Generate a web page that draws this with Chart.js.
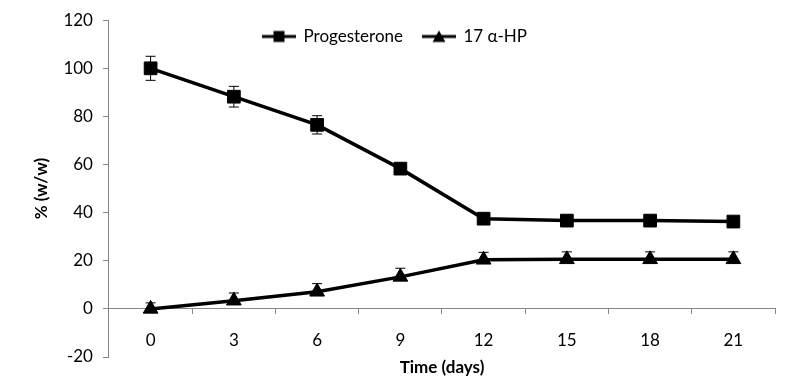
<!DOCTYPE html>
<html>
<head>
<meta charset="utf-8">
<script src="https://cdn.jsdelivr.net/npm/chart.js@4"></script>
<style>
  html, body { margin: 0; padding: 0; background: #fff; }
  #wrap { width: 786px; height: 389px; }
</style>
</head>
<body>
<div id="wrap"><canvas id="graph"></canvas></div>
<script>
const days = ['0', '3', '6', '9', '12', '15', '18', '21'];
const progesterone = [100, 88.2, 76.5, 58.3, 37.5, 36.7, 36.7, 36.3];
const progesteroneErr = [5, 4.3, 3.8, 2, 1.2, 1, 1, 1];
const hp = [0, 3.4, 7.1, 13.3, 20.4, 20.6, 20.6, 20.6];
const hpErr = [2.5, 3.2, 3.4, 3.6, 3.1, 3.1, 3.1, 3.1];
const yMin = -20, yMax = 120, yStep = 20;

const FONT = 'Lato, "Open Sans", sans-serif';
const axisGrey = '#868686';

// legend icons: line with marker through it, like the spreadsheet legend
function legendIcon(shape) {
    const c = document.createElement('canvas');
    c.width = 34;
    c.height = 14;
    const g = c.getContext('2d');
    g.strokeStyle = '#000';
    g.lineWidth = 3;
    g.beginPath();
    g.moveTo(0, 7);
    g.lineTo(34, 7);
    g.stroke();
    g.fillStyle = '#000';
    if (shape === 'rect') {
        g.fillRect(11.5, 1.5, 11, 11);
    } else {
        g.beginPath();
        g.moveTo(17, 1);
        g.lineTo(23.5, 12.5);
        g.lineTo(10.5, 12.5);
        g.closePath();
        g.fill();
    }
    return c;
}
const icons = [legendIcon('rect'), legendIcon('triangle')];
const errors = [progesteroneErr, hpErr];
const errorBelow = [true, false]; // 17 α-HP only shows the upper bar

const errorBars = {
    id: 'errorBars',
    beforeDatasetsDraw(chart) {
        const ctx = chart.ctx;
        const y = chart.scales.y;
        ctx.save();
        ctx.strokeStyle = '#000';
        ctx.lineWidth = 1;
        chart.data.datasets.forEach((ds, i) => {
            chart.getDatasetMeta(i).data.forEach((pt, j) => {
                const e = errors[i][j];
                const top = y.getPixelForValue(ds.data[j] + e);
                const bot = errorBelow[i] ? y.getPixelForValue(ds.data[j] - e) : pt.y;
                ctx.beginPath();
                ctx.moveTo(pt.x, top);
                ctx.lineTo(pt.x, bot);
                ctx.moveTo(pt.x - 5, top);
                ctx.lineTo(pt.x + 5, top);
                if (errorBelow[i]) {
                    ctx.moveTo(pt.x - 5, bot);
                    ctx.lineTo(pt.x + 5, bot);
                }
                ctx.stroke();
            });
        });
        ctx.restore();
    }
};

// legend sits inside the plot area in the original, so move it down after layout
const legendShift = {
    id: 'legendShift',
    afterLayout(chart) {
        const l = chart.legend;
        const dy = 8 - l.top;
        l.top += dy;
        l.bottom += dy;
        l.left = 2;
        l.right = chart.width + 2;
    }
};

new Chart(document.getElementById('graph'), {
    type: 'line',
    data: {
        labels: days,
        datasets: [{
            label: 'Progesterone',
            data: progesterone,
            borderColor: '#000',
            backgroundColor: '#000',
            borderWidth: 3.5,
            pointStyle: 'rect',
            pointRadius: 9,
            pointBorderWidth: 1,
            pointBorderColor: '#000',
            pointBackgroundColor: '#000',
            tension: 0
        }, {
            label: '17 α-HP',
            data: hp,
            borderColor: '#000',
            backgroundColor: '#000',
            borderWidth: 3.5,
            pointStyle: 'triangle',
            pointRadius: 8.5,
            pointBorderWidth: 1,
            pointBorderColor: '#000',
            pointBackgroundColor: '#000',
            tension: 0
        }]
    },
    options: {
        responsive: true,
        maintainAspectRatio: false,
        animation: false,
        layout: {
            padding: { left: 25, right: 11, top: -42, bottom: 32 }
        },
        plugins: {
            tooltip: { enabled: false },
            legend: {
                position: 'top',
                labels: {
                    usePointStyle: true,
                    pointStyleWidth: 32,
                    padding: 20,
                    color: '#000',
                    font: { family: FONT, size: 17 },
                    generateLabels(chart) {
                        const items = Chart.defaults.plugins.legend.labels.generateLabels(chart);
                        items.forEach((it, i) => { it.pointStyle = icons[i]; });
                        return items;
                    }
                }
            }
        },
        scales: {
            x: {
                type: 'category',
                position: { y: 0 },
                offset: true,
                grid: {
                    display: true,
                    drawOnChartArea: false,
                    offset: true,
                    tickLength: 5,
                    tickColor: axisGrey
                },
                border: { color: axisGrey, width: 1 },
                ticks: {
                    color: '#000',
                    padding: 16,
                    font: { family: FONT, size: 17 }
                },
                title: {
                    display: true,
                    text: 'Time (days)',
                    color: '#000',
                    padding: { top: -9, bottom: 0 },
                    font: { family: FONT, size: 17, weight: 'bold' }
                }
            },
            y: {
                min: yMin,
                max: yMax,
                grid: {
                    display: true,
                    drawOnChartArea: false,
                    tickLength: 6,
                    tickColor: axisGrey
                },
                border: { color: axisGrey, width: 1 },
                ticks: {
                    stepSize: yStep,
                    color: '#000',
                    padding: 10,
                    font: { family: FONT, size: 17 }
                },
                title: {
                    display: true,
                    text: '% (w/w)',
                    color: '#000',
                    padding: { top: 6, bottom: 2 },
                    font: { family: FONT, size: 17, weight: 'bold' }
                }
            }
        }
    },
    plugins: [errorBars, legendShift]
});
</script>
</body>
</html>
